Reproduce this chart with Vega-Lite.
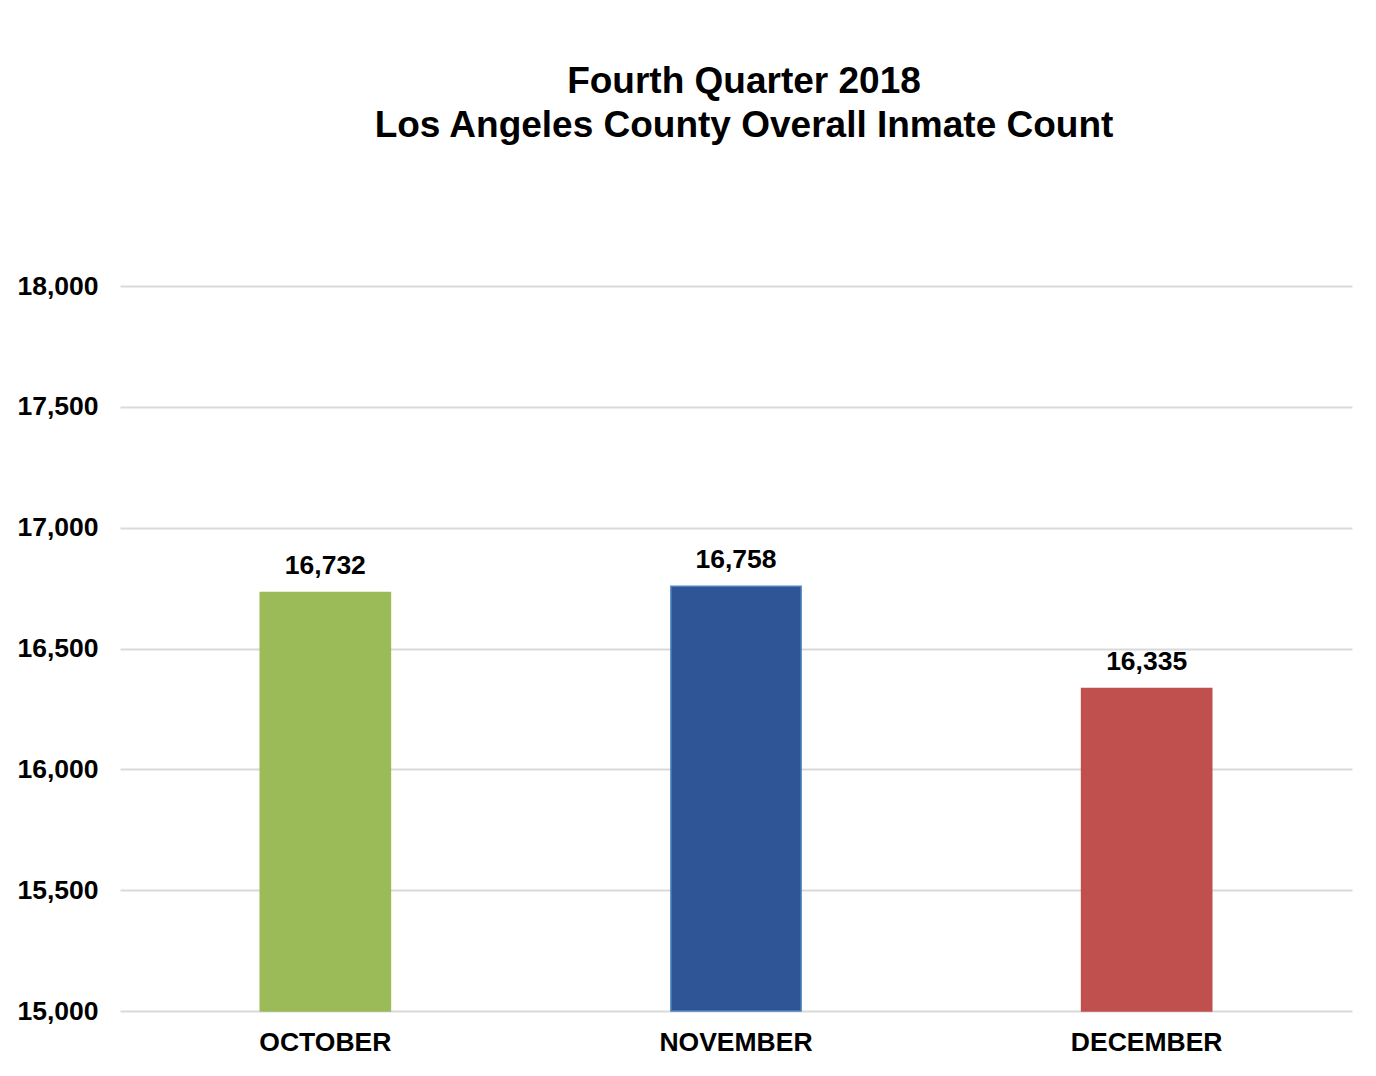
{
  "$schema": "https://vega.github.io/schema/vega-lite/v6.json",
  "autosize": "none",
  "width": 1232,
  "height": 725,
  "padding": {"left": 120, "top": 286, "right": 24, "bottom": 65},
  "background": "white",
  "config": {
    "view": {"stroke": null},
    "font": "Liberation Sans"
  },
  "title": {
    "text": ["Fourth Quarter 2018", "Los Angeles County Overall Inmate Count"],
    "font": "Liberation Sans",
    "fontSize": 37,
    "fontWeight": "bold",
    "color": "#000000",
    "lineHeight": 44,
    "anchor": "middle",
    "dx": 8,
    "offset": 128
  },
  "data": {
    "values": [
      {"month": "OCTOBER", "count": 16732},
      {"month": "NOVEMBER", "count": 16758},
      {"month": "DECEMBER", "count": 16335}
    ]
  },
  "encoding": {
    "x": {
      "field": "month",
      "type": "nominal",
      "sort": null,
      "scale": {"paddingInner": 0, "paddingOuter": 0},
      "axis": {
        "title": null,
        "labelAngle": 0,
        "labelFont": "Liberation Sans",
        "labelFontSize": 26.5,
        "labelFontWeight": "bold",
        "labelColor": "#000000",
        "labelPadding": 18,
        "domain": false,
        "ticks": false,
        "grid": false
      }
    },
    "y": {
      "field": "count",
      "type": "quantitative",
      "scale": {"domain": [15000, 18000], "zero": false, "nice": false},
      "axis": {
        "title": null,
        "values": [15000, 15500, 16000, 16500, 17000, 17500, 18000],
        "format": ",d",
        "labelFont": "Liberation Sans",
        "labelFontSize": 26.5,
        "labelFontWeight": "bold",
        "labelColor": "#000000",
        "labelPadding": 22,
        "domain": false,
        "ticks": false,
        "grid": true,
        "gridColor": "#d9d9d9",
        "gridWidth": 2
      }
    }
  },
  "layer": [
    {
      "mark": {"type": "bar", "width": {"band": 0.317}, "strokeWidth": 1.5},
      "encoding": {
        "y2": {"datum": 15000},
        "color": {
          "field": "month",
          "type": "nominal",
          "scale": {"domain": ["OCTOBER", "NOVEMBER", "DECEMBER"], "range": ["#9BBB59", "#2F5597", "#C0504D"]},
          "legend": null
        },
        "stroke": {
          "field": "month",
          "type": "nominal",
          "scale": {"domain": ["OCTOBER", "NOVEMBER", "DECEMBER"], "range": ["#9BBB59", "#4F81BD", "#C0504D"]},
          "legend": null
        }
      }
    },
    {
      "mark": {"type": "text", "baseline": "bottom", "dy": -12, "font": "Liberation Sans", "fontSize": 26.5, "fontWeight": "bold", "color": "#000000"},
      "encoding": {
        "text": {"field": "count", "type": "quantitative", "format": ",d"}
      }
    }
  ]
}
